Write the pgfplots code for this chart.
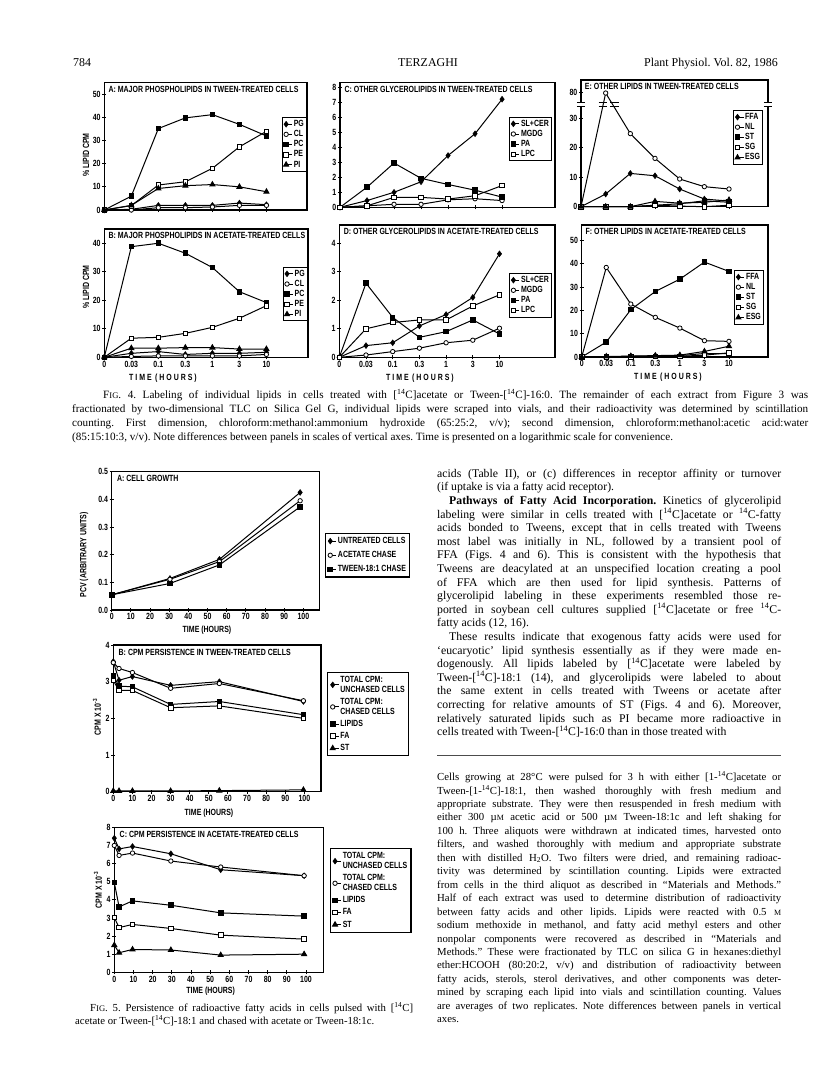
\documentclass[border=0pt]{standalone}
\usepackage{fontspec}
\setmainfont{Liberation Serif}
\newfontfamily\cf[FakeStretch=0.78]{Liberation Sans}
\usepackage{pgfplots}
\pgfplotsset{compat=1.18}
\newcommand{\cfont}{\cf\bfseries\fontsize{9}{10}\selectfont}
\newcommand{\sq}[1]{\textsuperscript{#1}}
\newcommand{\FIG}{F{\fontsize{8.6}{10}\selectfont IG}.}
\tikzset{ttl/.style={anchor=north west, font=\cfont, inner sep=0pt}}
\pgfplotsset{
 s1/.style={black, line width=1bp, mark=diamond*, mark size=2.9bp, mark options={solid, fill=black, line width=0.5bp}},
 s2/.style={black, line width=1bp, mark=*, mark size=2.2bp, mark options={solid, fill=white, line width=0.8bp}},
 s3/.style={black, line width=1bp, mark=square*, mark size=2.3bp, mark options={solid, fill=black}},
 s4/.style={black, line width=1bp, mark=square*, mark size=2.3bp, mark options={solid, fill=white, line width=0.8bp}},
 s5/.style={black, line width=1bp, mark=triangle*, mark size=2.8bp, mark options={solid, fill=black}},
 base/.style={scale only axis, clip=false, anchor=south west,
   axis line style={line width=1.1bp}, tick style={black, line width=0.9bp},
   tick align=center, major tick length=4bp, xtick pos=left, ytick pos=left,
   xmin=0, ymin=0, /pgf/number format/assume math mode=true,
   ticklabel style={font=\cfont}, xticklabel style={inner sep=1.5pt}, yticklabel style={inner sep=1.5pt},
   legend style={font=\cfont, draw=black, line width=1.1bp, row sep=0bp, inner sep=1.5bp, nodes={inner sep=1.2bp}},
   legend cell align=left,
   legend image code/.code={\draw[##1, mark=none] (0bp,0bp) -- (6bp,0bp); \draw[##1] plot coordinates {(0bp,0bp)};}},
 f4/.style={base, xtick={0,...,6}},
 f5/.style={base, xtick={0,10,...,100}, legend style={cells={align=left}, row sep=2bp, inner sep=2.5bp}},
}
\begin{document}
\frenchspacing
\begin{tikzpicture}[x=1bp,y=1bp]
\fill[white] (0bp,0bp) rectangle (816bp,-1073bp);
\path[use as bounding box] (0bp,0bp) rectangle (816bp,-1073bp);

% ---------- header ----------
\node[anchor=base west, inner sep=0, font=\fontsize{12}{14}\selectfont] at (73bp,-66bp) {784};
\node[anchor=base, inner sep=0, font=\fontsize{12}{14}\selectfont] at (428bp,-66bp) {TERZAGHI};
\node[anchor=base east, inner sep=0, font=\fontsize{12}{14}\selectfont] at (778bp,-66bp) {Plant Physiol. Vol. 82, 1986};

% ---------- Fig 4 A ----------
\begin{axis}[f4, at={(104.3bp,-210bp)}, width=202.7bp, height=127.3bp, xmax=7.5, ymax=55,
  ytick={0,10,...,50}, xticklabels={}, legend style={at={(0.875,0.73)}, anchor=north west}]
\addplot[s1] coordinates {(0,0)(1,0.3)(2,2)(3,2)(4,2)(5,3)(6,2.3)};
\addplot[s2] coordinates {(0,0)(1,0)(2,1)(3,1)(4,1.3)(5,2)(6,2)};
\addplot[s3] coordinates {(0,0)(1,6)(2,35.2)(3,39.8)(4,41.2)(5,37)(6,32)};
\addplot[s4] coordinates {(0,0)(1,1.9)(2,10.8)(3,12.2)(4,18)(5,27.3)(6,34)};
\addplot[s5] coordinates {(0,0)(1,2)(2,9.3)(3,10.5)(4,11)(5,10)(6,7.9)};
\legend{PG,CL,PC,PE,PI}
\node[ttl] at (rel axis cs:0.02,0.975) {A: MAJOR PHOSPHOLIPIDS IN TWEEN-TREATED CELLS};
\end{axis}

% ---------- Fig 4 B ----------
\begin{axis}[f4, at={(104.3bp,-357.3bp)}, width=203.7bp, height=128.3bp, xmax=7.54, ymax=45,
  ytick={0,10,...,40}, xticklabels={0,0.03,0.1,0.3,1,3,10}, legend style={at={(0.875,0.706)}, anchor=north west}]
\addplot[s1] coordinates {(0,0)(1,1.4)(2,2)(3,1)(4,1.4)(5,1.4)(6,1.75)};
\addplot[s2] coordinates {(0,0)(1,0.3)(2,0.5)(3,0.5)(4,0.5)(5,0.5)(6,1)};
\addplot[s3] coordinates {(0,0)(1,38.8)(2,40)(3,36.5)(4,31.5)(5,23)(6,19.2)};
\addplot[s4] coordinates {(0,0)(1,6.7)(2,7)(3,8.4)(4,10.5)(5,13.7)(6,18.1)};
\addplot[s5] coordinates {(0,0)(1,3.2)(2,3.2)(3,3.4)(4,3.4)(5,2.9)(6,2.9)};
\legend{PG,CL,PC,PE,PI}
\node[ttl] at (rel axis cs:0.02,0.975) {B: MAJOR PHOSPHOLIPIDS IN ACETATE-TREATED CELLS};
\end{axis}

% ---------- Fig 4 C ----------
\begin{axis}[f4, at={(340bp,-207.3bp)}, width=215bp, height=124.6bp, xmax=7.96, ymax=8.3,
  ytick={0,1,...,8}, xticklabels={}, legend style={at={(0.786,0.727)}, anchor=north west}]
\addplot[s1] coordinates {(0,0)(1,0.45)(2,1.0)(3,1.7)(4,3.45)(5,4.9)(6,7.2)};
\addplot[s2] coordinates {(0,0)(1,0.1)(2,0.2)(3,0.2)(4,0.5)(5,0.57)(6,0.45)};
\addplot[s3] coordinates {(0,0)(1,1.34)(2,2.95)(3,1.93)(4,1.52)(5,1.14)(6,0.68)};
\addplot[s4] coordinates {(0,0)(1,0.1)(2,0.66)(3,0.66)(4,0.55)(5,0.77)(6,1.45)};
\legend{SL+CER,MGDG,PA,LPC}
\node[ttl] at (rel axis cs:0.02,0.975) {C: OTHER GLYCEROLIPIDS IN TWEEN-TREATED CELLS};
\end{axis}

% ---------- Fig 4 D ----------
\begin{axis}[f4, at={(339.3bp,-357.3bp)}, width=215.7bp, height=132.3bp, xmax=8.08, ymax=4.64,
  ytick={0,1,...,4}, xticklabels={0,0.03,0.1,0.3,1,3,10}, legend style={at={(0.787,0.637)}, anchor=north west}]
\addplot[s1] coordinates {(0,0)(1,0.41)(2,0.51)(3,1.1)(4,1.5)(5,2.1)(6,3.63)};
\addplot[s2] coordinates {(0,0)(1,0.08)(2,0.2)(3,0.32)(4,0.51)(5,0.6)(6,1.02)};
\addplot[s3] coordinates {(0,0)(1,2.6)(2,1.4)(3,0.7)(4,0.9)(5,1.31)(6,0.82)};
\addplot[s4] coordinates {(0,0)(1,1.0)(2,1.22)(3,1.31)(4,1.31)(5,1.8)(6,2.19)};
\legend{SL+CER,MGDG,PA,LPC}
\node[ttl] at (rel axis cs:0.02,0.975) {D: OTHER GLYCEROLIPIDS IN ACETATE-TREATED CELLS};
\end{axis}

% ---------- Fig 4 E ----------
\begin{axis}[f4, at={(581bp,-206.7bp)}, width=187bp, height=126.7bp, xmax=7.58, ymax=43,
  ytick={0,10,20,30,38.8}, yticklabels={0,10,20,30,80}, xticklabels={}, legend style={at={(0.813,0.763)}, anchor=north west}]
\addplot[s1] coordinates {(0,0)(1,4.3)(2,11.3)(3,10.5)(4,6)(5,2.6)(6,1.9)};
\addplot[s2, y filter/.expression={y>36 ? 34+(y-34)*0.104 : y}] coordinates {(0,0)(1,78)(2,24.8)(3,16.4)(4,9.4)(5,6.8)(6,6)};
\addplot[s3] coordinates {(0,0)(1,0)(2,0)(3,0.5)(4,1)(5,2)(6,1.5)};
\addplot[s4] coordinates {(0,0)(1,0)(2,0)(3,0.5)(4,0.2)(5,0)(6,0.5)};
\addplot[s5] coordinates {(0,0)(1,0)(2,0)(3,1.8)(4,1.2)(5,1.5)(6,2.3)};
\legend{FFA,NL,ST,SG,ESG}
\node[ttl] at (rel axis cs:0.02,0.975) {E: OTHER LIPIDS IN TWEEN-TREATED CELLS};
\fill[white] (axis cs:-0.12,34.1) rectangle (axis cs:0.12,35.3);
\fill[white] (axis cs:7.46,34.1) rectangle (axis cs:7.70,35.3);
\draw[line width=0.9bp] (axis cs:-0.17,34.1) -- (axis cs:0.17,34.1);
\draw[line width=0.9bp] (axis cs:-0.17,35.3) -- (axis cs:0.17,35.3);
\draw[line width=0.9bp] (axis cs:7.41,34.1) -- (axis cs:7.75,34.1);
\draw[line width=0.9bp] (axis cs:7.41,35.3) -- (axis cs:7.75,35.3);
\draw[line width=0.9bp] (axis cs:0.71,34.1) -- (axis cs:1.05,34.1);
\draw[line width=0.9bp] (axis cs:0.71,35.3) -- (axis cs:1.05,35.3);
\draw[line width=0.9bp] (axis cs:1.19,34.1) -- (axis cs:1.53,34.1);
\draw[line width=0.9bp] (axis cs:1.19,35.3) -- (axis cs:1.53,35.3);
\end{axis}

% ---------- Fig 4 F ----------
\begin{axis}[f4, at={(581.7bp,-357bp)}, width=186.3bp, height=132bp, xmax=7.59, ymax=56.6,
  ytick={0,10,...,50}, xticklabels={0,0.03,0.1,0.3,1,3,10}, legend style={at={(0.817,0.659)}, anchor=north west}]
\addplot[s1] coordinates {(0,0)(1,0.1)(2,0.3)(3,0.5)(4,0.6)(5,1.5)(6,1.5)};
\addplot[s2] coordinates {(0,0)(1,38.4)(2,22.7)(3,17)(4,12.4)(5,7)(6,6.7)};
\addplot[s3] coordinates {(0,0)(1,6.4)(2,20.3)(3,28.1)(4,33.4)(5,40.7)(6,36.7)};
\addplot[s4] coordinates {(0,0)(1,0)(2,0.1)(3,0.2)(4,0.3)(5,0.8)(6,1.8)};
\addplot[s5] coordinates {(0,0)(1,0.2)(2,0.4)(3,0.6)(4,0.8)(5,2.4)(6,4.6)};
\legend{FFA,NL,ST,SG,ESG}
\node[ttl] at (rel axis cs:0.02,0.975) {F: OTHER LIPIDS IN ACETATE-TREATED CELLS};
\end{axis}

% Fig 4 axis labels
\node[rotate=90, font=\cfont] at (86bp,-155bp) {\% LIPID CPM};
\node[rotate=90, font=\cfont] at (86bp,-287bp) {\% LIPID CPM};
\node[font=\cfont] at (163bp,-378bp) {T I M E \,( H O U R S )};
\node[font=\cfont] at (420bp,-378bp) {T I M E \,( H O U R S )};
\node[font=\cfont] at (668bp,-377bp) {T I M E \,( H O U R S )};

% Fig 4 caption
\node[anchor=north west, inner sep=0, text width=736bp, align=justify, font=\fontsize{11.2}{13.8}\selectfont] at (72bp,-389.5bp)
{\hspace*{31bp}\FIG{} 4. Labeling of individual lipids in cells treated with [\sq{14}C]acetate or Tween-[\sq{14}C]-16:0. The remainder of each extract from Figure 3 was\linebreak
fractionated by two-dimensional TLC on Silica Gel G, individual lipids were scraped into vials, and their radioactivity was determined by scintillation\linebreak
counting. First dimension, chloroform:methanol:ammonium hydroxide (65:25:2, v/v); second dimension, chloroform:methanol:acetic acid:water\linebreak
(85:15:10:3, v/v). Note differences between panels in scales of vertical axes. Time is presented on a logarithmic scale for convenience.};

% ---------- Fig 5 A ----------
\begin{axis}[f5, at={(111.7bp,-610bp)}, width=207.6bp, height=138.3bp, xmax=108.3, ymax=0.5,
  ytick={0,0.1,...,0.5}, yticklabel style={/pgf/number format/.cd, fixed, fixed zerofill, precision=1},
  legend style={at={(1.027,0.557)}, anchor=north west, row sep=4bp}]
\addplot[s1] coordinates {(0,0.055)(30.4,0.114)(56.2,0.183)(98.3,0.425)};
\addplot[s2] coordinates {(0,0.055)(30.4,0.111)(56.2,0.175)(98.3,0.395)};
\addplot[s3] coordinates {(0,0.055)(30.4,0.096)(56.2,0.163)(98.3,0.373)};
\legend{UNTREATED CELLS,ACETATE CHASE,TWEEN-18:1 CHASE}
\node[ttl] at (rel axis cs:0.025,0.975) {A: CELL GROWTH};
\end{axis}

% ---------- Fig 5 B ----------
\begin{axis}[f5, at={(113.3bp,-791.7bp)}, width=207.7bp, height=146.7bp, xmax=108.7, ymax=4,
  ytick={0,1,...,4}, legend style={at={(1.03,0.818)}, anchor=north west}]
\addplot[s1] coordinates {(0,3.55)(3,3.04)(10,3.14)(30,2.9)(55.5,3.0)(99.5,2.46)};
\addplot[s2] coordinates {(0,3.52)(3,3.36)(10,3.25)(30,2.82)(55.5,2.95)(99.5,2.48)};
\addplot[s3] coordinates {(0,3.16)(3,2.88)(10,2.86)(30,2.38)(55.5,2.46)(99.5,2.1)};
\addplot[s4] coordinates {(0,3.03)(3,2.76)(10,2.76)(30,2.29)(55.5,2.34)(99.5,2.0)};
\addplot[s5] coordinates {(0,0.02)(3,0.02)(10,0.02)(30,0.02)(55.5,0.03)(99.5,0.05)};
\legend{{TOTAL CPM:\\UNCHASED CELLS},{TOTAL CPM:\\CHASED CELLS},LIPIDS,FA,ST}
\node[ttl] at (rel axis cs:0.025,0.975) {B: CPM PERSISTENCE IN TWEEN-TREATED CELLS};
\end{axis}

% ---------- Fig 5 C ----------
\begin{axis}[f5, at={(114.3bp,-972.3bp)}, width=209bp, height=145bp, xmax=109, ymax=8,
  ytick={0,1,...,8}, legend style={at={(1.03,0.857)}, anchor=north west}]
\addplot[s1] coordinates {(0,7.4)(2.5,6.81)(9.5,6.94)(29.5,6.54)(55.5,5.66)(99,5.33)};
\addplot[s2] coordinates {(0,7.0)(2.5,6.45)(9.5,6.58)(29.5,6.14)(55.5,5.81)(99,5.33)};
\addplot[s3] coordinates {(0,4.95)(2.5,3.61)(9.5,3.94)(29.5,3.7)(55.5,3.28)(99,3.1)};
\addplot[s4] coordinates {(0,3.02)(2.5,2.47)(9.5,2.64)(29.5,2.42)(55.5,2.05)(99,1.83)};
\addplot[s5] coordinates {(0,1.5)(2.5,1.08)(9.5,1.26)(29.5,1.23)(55.5,0.95)(99,1.0)};
\legend{{TOTAL CPM:\\UNCHASED CELLS},{TOTAL CPM:\\CHASED CELLS},LIPIDS,FA,ST}
\node[ttl] at (rel axis cs:0.025,0.975) {C: CPM PERSISTENCE IN ACETATE-TREATED CELLS};
\end{axis}

% Fig 5 axis labels
\node[rotate=90, font=\cfont] at (84bp,-555bp) {PCV (ARBITRARY UNITS)};
\node[rotate=90, font=\cfont] at (97bp,-717bp) {CPM X 10\textsuperscript{-3}};
\node[rotate=90, font=\cfont] at (98bp,-890bp) {CPM X 10\textsuperscript{-3}};
\node[font=\cfont] at (207bp,-630bp) {TIME (HOURS)};
\node[font=\cfont] at (209bp,-813bp) {TIME (HOURS)};
\node[font=\cfont] at (210.7bp,-991bp) {TIME (HOURS)};

% Fig 5 caption
\node[anchor=north west, inner sep=0, text width=338bp, align=justify, font=\fontsize{10.8}{13.5}\selectfont] at (75bp,-1002.3bp)
{\parfillskip=0pt\hspace*{15bp}\FIG{} 5. Persistence of radioactive fatty acids in cells pulsed with [\sq{14}C]\linebreak
acetate or Tween-[\sq{14}C]-18:1 and chased with acetate or Tween-18:1c.};

% ---------- right column body ----------
\node[anchor=north west, inner sep=0, text width=344bp, align=justify, font=\fontsize{11.8}{13.65}\selectfont] at (437bp,-468.8bp)
{acids (Table II), or (c) differences in receptor affinity or turnover\linebreak
(if uptake is via a fatty acid receptor).\par
\hspace*{12bp}\textbf{Pathways of Fatty Acid Incorporation.} Kinetics of glycerolipid\linebreak
labeling were similar in cells treated with [\sq{14}C]acetate or \sq{14}C-fatty\linebreak
acids bonded to Tweens, except that in cells treated with Tweens\linebreak
most label was initially in NL, followed by a transient pool of\linebreak
FFA (Figs. 4 and 6). This is consistent with the hypothesis that\linebreak
Tweens are deacylated at an unspecified location creating a pool\linebreak
of FFA which are then used for lipid synthesis. Patterns of\linebreak
glycerolipid labeling in these experiments resembled those re-\linebreak
ported in soybean cell cultures supplied [\sq{14}C]acetate or free \sq{14}C-\linebreak
fatty acids (12, 16).\par
\hspace*{12bp}These results indicate that exogenous fatty acids were used for\linebreak
`eucaryotic' lipid synthesis essentially as if they were made en-\linebreak
dogenously. All lipids labeled by [\sq{14}C]acetate were labeled by\linebreak
Tween-[\sq{14}C]-18:1 (14), and glycerolipids were labeled to about\linebreak
the same extent in cells treated with Tweens or acetate after\linebreak
correcting for relative amounts of ST (Figs. 4 and 6). Moreover,\linebreak
relatively saturated lipids such as PI became more radioactive in\linebreak
cells treated with Tween-[\sq{14}C]-16:0 than in those treated with};

\draw[line width=0.7bp, black!70] (437bp,-755bp) -- (781bp,-755bp);

% ---------- footnote ----------
\node[anchor=north west, inner sep=0, text width=344bp, align=justify, font=\fontsize{10.8}{13.5}\selectfont] at (437bp,-771.5bp)
{Cells growing at 28°C were pulsed for 3 h with either [1-\sq{14}C]acetate or\linebreak
Tween-[1-\sq{14}C]-18:1, then washed thoroughly with fresh medium and\linebreak
appropriate substrate. They were then resuspended in fresh medium with\linebreak
either 300 µ{\fontsize{8}{9}\selectfont M} acetic acid or 500 µ{\fontsize{8}{9}\selectfont M} Tween-18:1c and left shaking for\linebreak
100 h. Three aliquots were withdrawn at indicated times, harvested onto\linebreak
filters, and washed thoroughly with medium and appropriate substrate\linebreak
then with distilled H\textsubscript{2}O. Two filters were dried, and remaining radioac-\linebreak
tivity was determined by scintillation counting. Lipids were extracted\linebreak
from cells in the third aliquot as described in ``Materials and Methods.''\linebreak
Half of each extract was used to determine distribution of radioactivity\linebreak
between fatty acids and other lipids. Lipids were reacted with 0.5 {\fontsize{8}{9}\selectfont M}\linebreak
sodium methoxide in methanol, and fatty acid methyl esters and other\linebreak
nonpolar components were recovered as described in ``Materials and\linebreak
Methods.'' These were fractionated by TLC on silica G in hexanes:diethyl\linebreak
ether:HCOOH (80:20:2, v/v) and distribution of radioactivity between\linebreak
fatty acids, sterols, sterol derivatives, and other components was deter-\linebreak
mined by scraping each lipid into vials and scintillation counting. Values\linebreak
are averages of two replicates. Note differences between panels in vertical\linebreak
axes.};
\end{tikzpicture}
\end{document}
